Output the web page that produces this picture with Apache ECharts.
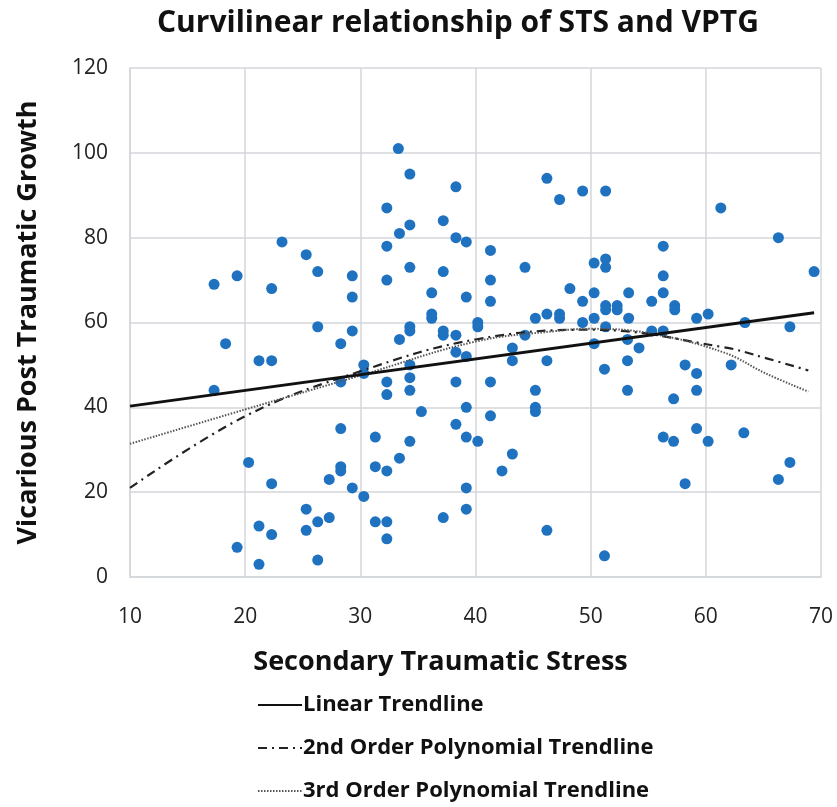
<!DOCTYPE html>
<html>
<head>
<meta charset="utf-8">
<script src="https://cdn.jsdelivr.net/npm/echarts@6/dist/echarts.min.js"></script>
<style>
  html, body { margin: 0; padding: 0; background: #fff; }
  #chart { width: 837px; height: 807px; }
</style>
</head>
<body>
<div id="chart"></div>
<script>
// STS (x) and VPTG (y) scores
const sts = [
  23.2, 25.3, 19.3, 17.3, 26.3, 22.3, 29.3, 29.3, 26.3, 29.3,
  18.3, 21.2, 22.3, 17.3, 28.3, 28.3, 28.3, 20.3, 28.3, 28.3, 27.3, 29.3, 22.3, 25.3, 26.3, 25.3, 27.3, 21.2, 22.3, 19.3, 21.2, 26.3,
  33.3, 34.3, 38.3, 46.2, 47.3, 49.3, 32.3, 37.2, 34.3, 33.4, 38.3, 39.2, 32.3, 41.3, 44.3, 34.3, 37.2, 32.3, 41.3, 48.2, 36.2, 39.2, 41.3, 49.3, 36.2, 36.2, 45.2, 46.2, 47.3, 47.3, 49.3, 34.3, 37.2, 40.2,
  34.3, 37.2, 38.3, 40.2, 33.4, 44.3, 30.3, 30.3, 34.3, 38.3, 39.2, 43.2, 43.2, 46.2, 32.3, 32.3, 34.3, 34.3, 38.3, 41.3, 45.2, 45.2, 45.2, 35.3, 39.2, 41.3, 38.3, 39.2, 40.2, 34.3, 31.3, 33.4, 43.2, 31.3, 32.3, 42.3, 30.3, 39.2, 39.2, 37.2, 31.3, 32.3, 32.3, 46.2,
  51.3, 61.3, 66.3, 56.3, 69.4, 50.3, 51.3, 51.3, 56.3, 50.3, 53.3, 56.3, 55.3, 51.3, 51.3, 52.3, 52.3, 57.3, 57.3, 50.3, 53.3, 59.2, 60.2, 63.4, 67.3, 51.3, 55.3, 56.3,
  50.3, 53.2, 54.2, 51.2, 53.2, 53.2, 58.2, 59.2, 59.2, 57.2, 62.2, 59.2, 56.3, 57.2, 60.2, 63.3, 67.3, 66.3, 58.2, 51.2
];
const vptg = [
  79, 76, 71, 69, 72, 68, 71, 66, 59, 58,
  55, 51, 51, 44, 55, 46, 35, 27, 26, 25, 23, 21, 22, 16, 13, 11, 14, 12, 10, 7, 3, 4,
  101, 95, 92, 94, 89, 91, 87, 84, 83, 81, 80, 79, 78, 77, 73, 73, 72, 70, 70, 68, 67, 66, 65, 65, 62, 61, 61, 62, 62, 61, 60, 59, 58, 60,
  58, 57, 57, 59, 56, 57, 50, 48, 50, 53, 52, 54, 51, 51, 46, 43, 47, 44, 46, 46, 44, 40, 39, 39, 40, 38, 36, 33, 32, 32, 33, 28, 29, 26, 25, 25, 19, 21, 16, 14, 13, 13, 9, 11,
  91, 87, 80, 78, 72, 74, 75, 73, 71, 67, 67, 67, 65, 64, 63, 64, 63, 64, 63, 61, 61, 61, 62, 60, 59, 59, 58, 58,
  55, 56, 54, 49, 51, 44, 50, 48, 44, 42, 50, 35, 33, 32, 32, 34, 27, 23, 22, 5
];

// trendlines
const linearX = [10, 69.4];
const linearY = [40.3, 62.3];
const poly2X = [10, 20, 30, 40, 50, 61.5, 65.2, 68.9];
const poly2Y = [21, 37.9, 48.5, 56, 58.3, 54.2, 51.6, 48.7];
const poly3X = [10, 20, 30, 40, 47, 50, 55, 61.5, 65.2, 68.9];
const poly3Y = [31.4, 39.5, 47.5, 55.5, 58, 58.5, 57.5, 53, 48, 43.7];

const xTicks = { min: 10, max: 70, step: 10 };
const yTicks = { min: 0, max: 120, step: 20 };

const font = "'Open Sans', sans-serif";
const zip = (xs, ys) => xs.map((x, i) => [x, ys[i]]);

const chart = echarts.init(document.getElementById('chart'));
const option = {
  animation: false,
  title: {
    text: 'Curvilinear relationship of STS and VPTG',
    left: 152,
    top: 3,
    textStyle: { fontFamily: font, fontSize: 30, fontWeight: 'bold', color: '#111' }
  },
  grid: { left: 130, right: 16, top: 68, bottom: 230 },
  legend: {
    orient: 'vertical',
    left: 252,
    top: 689,
    itemGap: 21,
    itemWidth: 44,
    itemHeight: 14,
    itemStyle: { opacity: 0 },
    data: ['Linear Trendline', '2nd Order Polynomial Trendline', '3rd Order Polynomial Trendline'],
    textStyle: { fontFamily: font, fontSize: 22, fontWeight: 'bold', color: '#111', padding: [0, 0, 0, -4] }
  },
  xAxis: {
    type: 'value',
    min: xTicks.min,
    max: xTicks.max,
    interval: xTicks.step,
    name: 'Secondary Traumatic Stress',
    nameLocation: 'middle',
    nameGap: 72,
    nameTextStyle: { fontFamily: font, fontSize: 27, fontWeight: 'bold', color: '#111', padding: [0, 70, 0, 0] },
    axisLine: { show: true, lineStyle: { color: '#d3d6da', width: 1.5 } },
    axisTick: { show: false },
    axisLabel: { margin: 30, fontFamily: font, fontSize: 21, color: '#222' },
    splitLine: { show: true, lineStyle: { color: '#d3d6da', width: 1.5 } }
  },
  yAxis: {
    type: 'value',
    min: yTicks.min,
    max: yTicks.max,
    interval: yTicks.step,
    name: 'Vicarious Post Traumatic Growth',
    nameLocation: 'middle',
    nameGap: 88,
    nameTextStyle: { fontFamily: font, fontSize: 27, fontWeight: 'bold', color: '#111' },
    axisLine: { show: true, lineStyle: { color: '#d3d6da', width: 1.5 } },
    axisTick: { show: false },
    axisLabel: { margin: 22, fontFamily: font, fontSize: 21, color: '#222' },
    splitLine: { show: true, lineStyle: { color: '#d3d6da', width: 1.5 } }
  },
  series: [
    {
      type: 'scatter',
      name: 'STS vs VPTG',
      data: zip(sts, vptg),
      symbolSize: 11,
      itemStyle: { color: '#1f72c0', opacity: 1 }
    },
    {
      type: 'line',
      name: 'Linear Trendline',
      data: zip(linearX, linearY),
      symbol: 'none',
      itemStyle: { color: '#111' },
      lineStyle: { color: '#111', width: 2.8, type: 'solid' },
      z: 5
    },
    {
      type: 'line',
      name: '2nd Order Polynomial Trendline',
      data: zip(poly2X, poly2Y),
      symbol: 'none',
      smooth: 0.4,
      itemStyle: { color: '#222' },
      lineStyle: { color: '#222', width: 2.2, type: [9, 5, 2, 5] },
      z: 4
    },
    {
      type: 'line',
      name: '3rd Order Polynomial Trendline',
      data: zip(poly3X, poly3Y),
      symbol: 'none',
      smooth: 0.4,
      itemStyle: { color: '#555' },
      lineStyle: { color: '#555', width: 2, type: [1.5, 1.5] },
      z: 4
    }
  ]
};
chart.setOption(option);
</script>
</body>
</html>
